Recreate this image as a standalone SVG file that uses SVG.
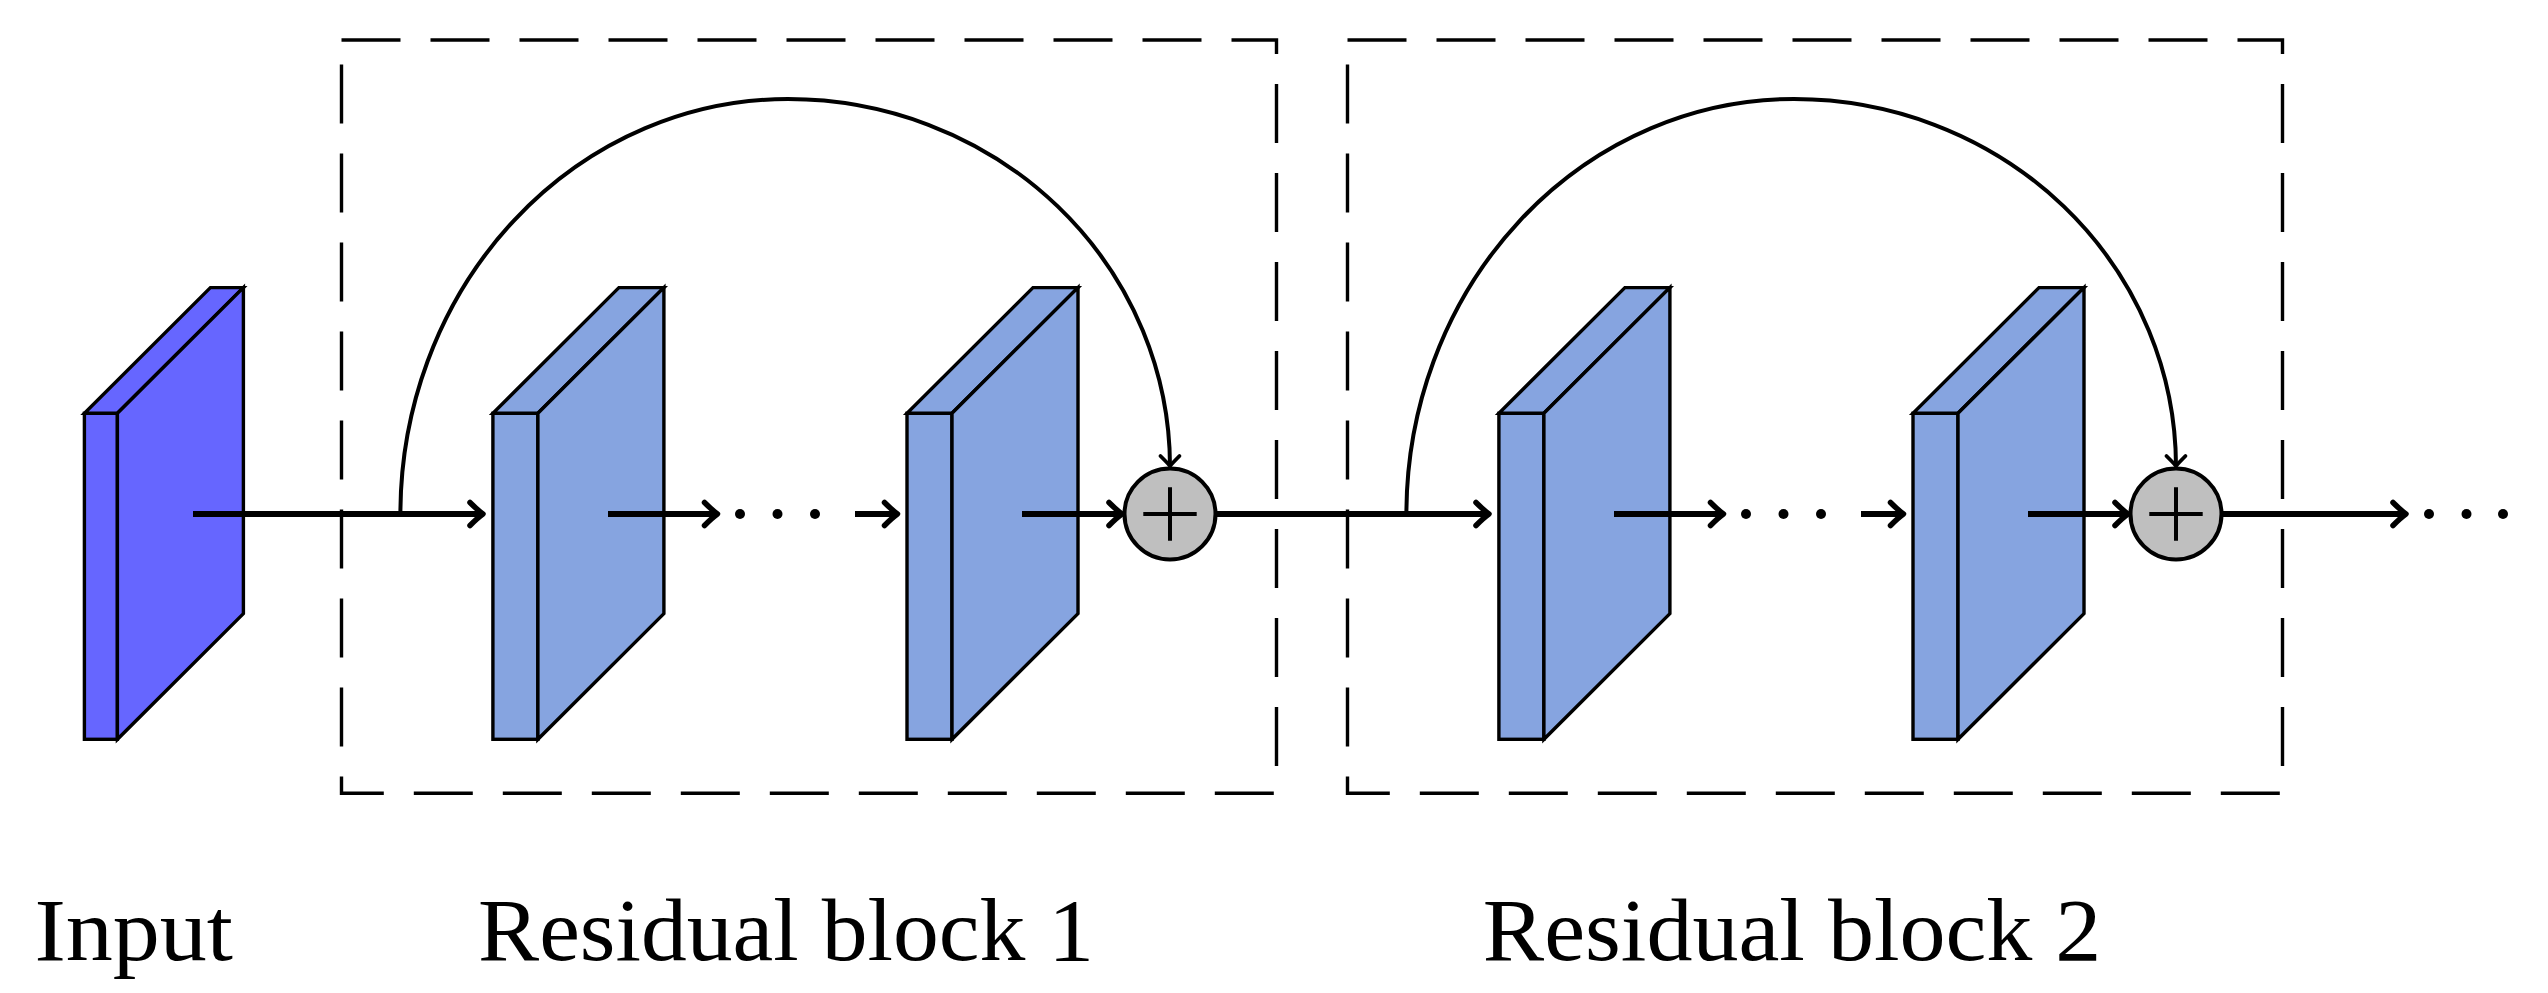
<svg xmlns="http://www.w3.org/2000/svg" xmlns:xlink="http://www.w3.org/1999/xlink" width="2548" height="993" viewBox="0 0 2548 993">
<style>
.face{stroke:#000;stroke-width:3.4;stroke-linejoin:miter}
.in{fill:#6666FF}
.conv{fill:#86A4E0}
.box{fill:none;stroke:#000;stroke-width:3.4;stroke-dasharray:59 30}
.line{fill:none;stroke:#000;stroke-width:6}
.skip{fill:none;stroke:#000;stroke-width:4}
.sum{fill:#BFBFBF;stroke:#000;stroke-width:4}
.plus{fill:none;stroke:#000;stroke-width:4}
.dot{fill:#000}
.lbl{font-family:"Liberation Serif","Times New Roman",serif;font-size:88px;fill:#000}
</style>
<defs>
<marker id="ah" markerUnits="userSpaceOnUse" markerWidth="30" markerHeight="30" viewBox="-20 -15 25 30" refX="0" refY="0" orient="auto" overflow="visible">
<path d="M-13,-11.5 Q-5,-3.5 0,0 Q-5,3.5 -13,11.5" fill="none" stroke="#000" stroke-width="5.5" stroke-linecap="round" stroke-linejoin="round"/>
</marker>
<marker id="ahs" markerUnits="userSpaceOnUse" markerWidth="30" markerHeight="30" viewBox="-20 -15 25 30" refX="0" refY="0" orient="auto" overflow="visible">
<path d="M-10,-9.5 Q-3,-2.5 0,0 Q-3,2.5 -10,9.5" fill="none" stroke="#000" stroke-width="3.8" stroke-linecap="round" stroke-linejoin="round"/>
</marker>
<g id="convblock">
<rect class="face conv" x="0" y="0" width="45" height="326"/>
<polygon class="face conv" points="0,0 45,0 171,-125.7 126,-125.7"/>
<polygon class="face conv" points="45,0 171,-125.7 171,200.3 45,326"/>
</g>
</defs>
<rect width="2548" height="993" fill="#fff"/>

<g id="box1"><path class="box" d="M341.5,40 H1276.5 V793.3 H341.5 Z"/></g>
<g id="box2"><path class="box" d="M1347.5,40 H2282.5 V793.3 H1347.5 Z"/></g>

<g id="input">
<rect class="face in" x="84.4" y="413.3" width="33" height="326"/>
<polygon class="face in" points="84.4,413.3 117.4,413.3 243.4,287.6 210.4,287.6"/>
<polygon class="face in" points="117.4,413.3 243.4,287.6 243.4,613.6 117.4,739.3"/>
</g>
<g id="r1a"><use xlink:href="#convblock" transform="translate(492.9,413.3)"/></g>
<g id="r1b"><use xlink:href="#convblock" transform="translate(907,413.3)"/></g>
<g id="r2a"><use xlink:href="#convblock" transform="translate(1498.9,413.3)"/></g>
<g id="r2b"><use xlink:href="#convblock" transform="translate(1913,413.3)"/></g>

<g id="connectors">
<path class="line" d="M193,514 H483" marker-end="url(#ah)"/>
<path class="skip" d="M400.4,514 A387.6,415 0 0 1 788,99 A382,368 0 0 1 1170,466" marker-end="url(#ahs)"/>
<path class="line" d="M608,514 H717.5" marker-end="url(#ah)"/>
<circle class="dot" cx="740" cy="514" r="5"/>
<circle class="dot" cx="777.5" cy="514" r="5"/>
<circle class="dot" cx="815" cy="514" r="5"/>
<path class="line" d="M855,514 H897.5" marker-end="url(#ah)"/>
<path class="line" d="M1022,514 H1122" marker-end="url(#ah)"/>
<path class="line" d="M1216.5,514 H1489" marker-end="url(#ah)"/>
<path class="skip" d="M1406.4,514 A387.6,415 0 0 1 1794,99 A382,368 0 0 1 2176,466" marker-end="url(#ahs)"/>
<path class="line" d="M1614,514 H1723.5" marker-end="url(#ah)"/>
<circle class="dot" cx="1746" cy="514" r="5"/>
<circle class="dot" cx="1783.5" cy="514" r="5"/>
<circle class="dot" cx="1821" cy="514" r="5"/>
<path class="line" d="M1861,514 H1903.5" marker-end="url(#ah)"/>
<path class="line" d="M2028,514 H2128" marker-end="url(#ah)"/>
<path class="line" d="M2222.5,514 H2406" marker-end="url(#ah)"/>
<circle class="dot" cx="2429" cy="514" r="5"/>
<circle class="dot" cx="2466.5" cy="514" r="5"/>
<circle class="dot" cx="2503" cy="514" r="5"/>
</g>

<g id="sum1">
<circle class="sum" cx="1170" cy="514" r="45.5"/>
<path class="plus" d="M1143.3,514 H1196.7 M1170,487.3 V540.7"/>
</g>
<g id="sum2">
<circle class="sum" cx="2176" cy="514" r="45.5"/>
<path class="plus" d="M2149.3,514 H2202.7 M2176,487.3 V540.7"/>
</g>

<g id="labels">
<text class="lbl" x="34.4" y="960" textLength="198.6" lengthAdjust="spacingAndGlyphs">Input</text>
<text class="lbl" x="478" y="960" textLength="616" lengthAdjust="spacingAndGlyphs">Residual block 1</text>
<text class="lbl" x="1482.8" y="960" textLength="618.6" lengthAdjust="spacingAndGlyphs">Residual block 2</text>
</g>
</svg>
